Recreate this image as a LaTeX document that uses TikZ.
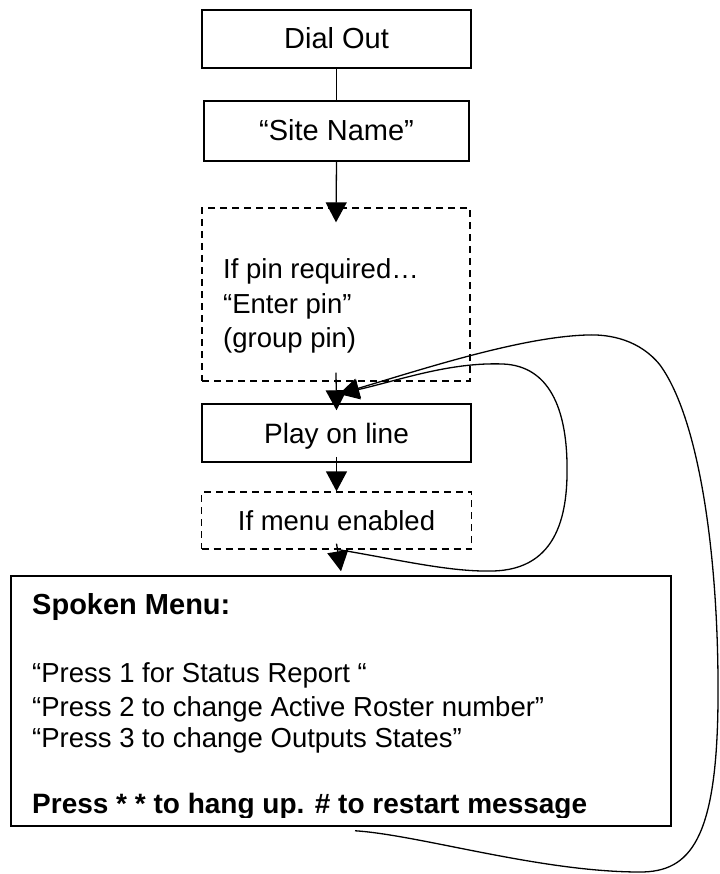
\documentclass[tikz,border=0pt]{standalone}
\usepackage{fontspec}
\setmainfont{Liberation Sans}
\usetikzlibrary{arrows.meta}
\newcommand\fsz[1]{\fontsize{#1}{#1}\selectfont}
\begin{document}
\begin{tikzpicture}[x=1pt,y=-1pt,
  box/.style={draw, line width=1.5pt, inner sep=0pt, text height=20pt, text depth=0pt, font=\fsz{29}},
  dbox/.style={draw, line width=1.3pt, dash pattern=on 7pt off 5pt, inner sep=0pt, text height=19.5pt, text depth=0pt, font=\fsz{27.5}},
  txt/.style={anchor=base west, inner sep=0pt, font=\fsz{27.5}},
  btxt/.style={anchor=base west, inner sep=0pt, font=\fsz{29}\bfseries},
  arr/.style={line width=1.3pt, -{Triangle[length=20pt,width=21pt]}},
  link/.style={line width=1.3pt},
  loop/.style={line width=1.3pt, -{Triangle[length=20pt,width=20pt]}}]
\useasboundingbox[fill=white] (0,0) rectangle (719,874);

% boxes
\node[box, minimum width=269pt, minimum height=58pt] (dial) at (336.5,39) {Dial Out};
\node[box, minimum width=265pt, minimum height=60pt] (site) at (336.5,131) {“Site Name”};
\node[dbox, minimum width=268pt, minimum height=173pt] (pin) at (336,294.5) {};
\node[txt] (pin1) at (223,279) {If pin required…};
\node[txt] (pin2) at (223,313) {“Enter pin”};
\node[txt] (pin3) at (223,347) {(group pin)};
\node[box, font=\fsz{28}, minimum width=269pt, minimum height=58pt] (play) at (336.5,433) {Play on line};
\node[dbox, minimum width=270pt, minimum height=57pt] (menuen) at (336.5,520.5) {If menu enabled};
\node[draw, line width=1.5pt, inner sep=0pt, minimum width=660pt, minimum height=250pt] (main) at (341,701) {};

% main text
\node[btxt] (m0) at (32,614) {Spoken Menu:};
\node[txt] (m1) at (32,682) {“Press 1 for Status Report “};
\node[txt] (m2) at (32,716) {“Press 2 to change Active Roster number”};
\node[txt] (m3) at (32,747) {“Press 3 to change Outputs States”};
\begin{scope}
  \clip (0,0) rectangle (719,817);
  \node[btxt, font=\fsz{28}\bfseries] (m4) at (32,813) {Press * * to hang up. \# to restart message};
\end{scope}

% straight connectors
\draw[link] (dial.south) -- (site.north);
\draw[arr] (site.south) -- ([yshift=-15pt]pin.north);
\draw[arr] ([yshift=9pt]pin.south) -- ([yshift=-7pt]play.north);
\draw[arr] ([yshift=6pt]play.south) -- (menuen.north);
\draw[arr] ([yshift=6pt]menuen.south) -- ([yshift=4pt]main.north);

% loop-back curves
\coordinate (loopin) at (339,394);
\coordinate (outs) at ([xshift=14pt,yshift=-4pt]main.south);
\coordinate (ins) at ([xshift=2pt]menuen.south);

\draw[loop] (outs) .. controls (420,835) and (540,872) .. (640,872)
  .. controls (690,872) and (717,840) .. (718,700)
  .. controls (719,560) and (700,420) .. (660,365)
  .. controls (640,340) and (610,334) .. (587,335)
  .. controls (520,337) and (420,370) .. (loopin);

\draw[loop] (ins) .. controls (400,560) and (450,572) .. (492,571)
  .. controls (560,570) and (568,510) .. (567,463)
  .. controls (566,410) and (550,366) .. (503,364)
  .. controls (450,362) and (400,380) .. (loopin);
\end{tikzpicture}
\end{document}
